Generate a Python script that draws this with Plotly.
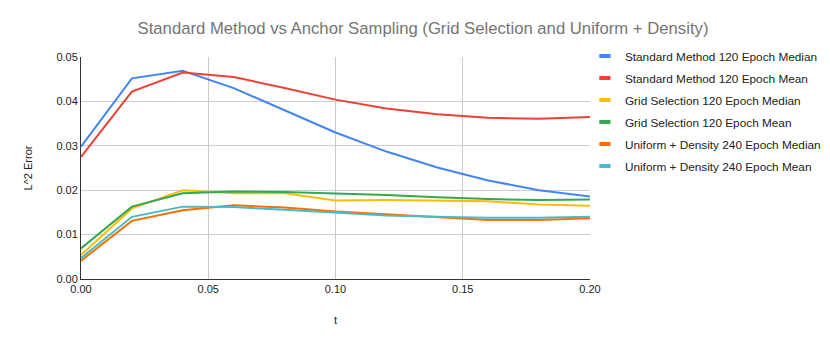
import plotly.graph_objs as go

t = [0.00, 0.02, 0.04, 0.06, 0.08, 0.10, 0.12, 0.14, 0.16, 0.18, 0.20]

std_median = [0.0298, 0.0452, 0.0469, 0.0430, 0.0380, 0.0330, 0.0287, 0.0251, 0.0222, 0.0200, 0.0186]
std_mean = [0.0275, 0.0422, 0.0465, 0.0455, 0.0430, 0.0404, 0.0384, 0.0371, 0.0363, 0.0361, 0.0365]
grid_median = [0.0054, 0.0159, 0.0200, 0.0193, 0.0193, 0.0177, 0.0178, 0.0177, 0.0175, 0.0168, 0.0165]
grid_mean = [0.0069, 0.0163, 0.0193, 0.0197, 0.0196, 0.0193, 0.0189, 0.0184, 0.0180, 0.0178, 0.0179]
unif_median = [0.0041, 0.0131, 0.0155, 0.0166, 0.0161, 0.0152, 0.0146, 0.0139, 0.0133, 0.0133, 0.0137]
unif_mean = [0.0047, 0.0140, 0.0163, 0.0162, 0.0156, 0.0149, 0.0143, 0.0140, 0.0138, 0.0138, 0.0140]

series = [
    ('Standard Method 120 Epoch Median', std_median, '#4285f4'),
    ('Standard Method 120 Epoch Mean', std_mean, '#ea4335'),
    ('Grid Selection 120 Epoch Median', grid_median, '#fbbc04'),
    ('Grid Selection 120 Epoch Mean', grid_mean, '#34a853'),
    ('Uniform + Density 240 Epoch Median', unif_median, '#ff6d01'),
    ('Uniform + Density 240 Epoch Mean', unif_mean, '#46bdc6'),
]

fig = go.Figure()
for name, vals, color in series:
    fig.add_trace(go.Scatter(x=t, y=vals, mode='lines', name=name, showlegend=False,
                             line=dict(color=color, width=2)))
# legend-only entries with short thick swatches, one group each for spacing
for i, (name, vals, color) in enumerate(series):
    fig.add_trace(go.Scatter(x=[None], y=[None], mode='markers', name=name,
                             legendgroup='g%d' % i,
                             marker=dict(symbol='line-ew', size=8, color=color,
                                         line=dict(color=color, width=4))))

fig.update_layout(
    width=830, height=344,
    margin=dict(l=73, r=242, t=49, b=73),
    paper_bgcolor='white', plot_bgcolor='white',
    font=dict(family='Liberation Sans, Arial', size=11, color='#222222'),
    title=dict(text='Standard Method vs Anchor Sampling (Grid Selection and Uniform + Density)',
               x=0.5, xanchor='center', y=0.94, yanchor='middle',
               font=dict(size=16.7, color='#757575')),
    legend=dict(x=0.99, xanchor='left', y=1.07, yanchor='top',
                font=dict(size=11.8, color='#222222'), tracegroupgap=3,
                itemwidth=30, borderwidth=0, bgcolor='rgba(0,0,0,0)'),
    xaxis=dict(range=[0, 0.2], tickvals=[0, 0.05, 0.10, 0.15, 0.20],
               ticktext=['0.00', '0.05', '0.10', '0.15', '0.20'],
               showgrid=True, gridcolor='#cccccc', zeroline=False,
               showline=True, linecolor='#333333', linewidth=1,
               title=dict(text='t', standoff=22, font=dict(size=11, color='#222222'))),
    yaxis=dict(range=[0, 0.05], tickvals=[0, 0.01, 0.02, 0.03, 0.04, 0.05],
               ticktext=['0.00', '0.01', '0.02', '0.03', '0.04', '0.05'],
               showgrid=True, gridcolor='#cccccc', zeroline=False,
               showline=True, linecolor='#333333', linewidth=1,
               title=dict(text='L^2 Error', standoff=21, font=dict(size=11, color='#222222'))),
)

fig.write_html('out.html')
